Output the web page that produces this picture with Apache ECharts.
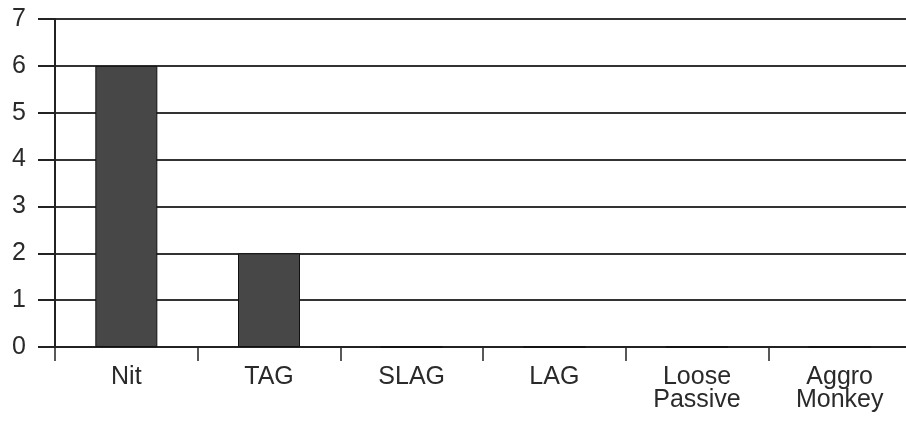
<!DOCTYPE html>
<html>
<head>
    <meta charset="utf-8">
    <title>Player types</title>
    <script src="https://cdn.jsdelivr.net/npm/echarts@6/dist/echarts.min.js"></script>
    <style>
        *{
            margin: 0;
            padding: 0;
        }
        html,body{
            width: 100%;
            height: 100%;
            overflow: hidden;
            background: #fff;
        }
        .container{
            width: 906px;
            height: 428px;
        }
    </style>
</head>
<body>
<div class="container"></div>

<script>
    let categories = ['Nit', 'TAG', 'SLAG', 'LAG', 'Loose\nPassive', 'Aggro\nMonkey'];
    let values = [6, 2, 0, 0, 0, 0];
    let yTicks = [0, 1, 2, 3, 4, 5, 6, 7];

    let container = document.getElementsByClassName('container');
    let chart = echarts.init(container[0]);
    let option = {
        animation: false,
        grid: {
            left: 55,
            top: 19,
            width: 856,
            height: 328,
            outerBoundsMode: 'none'
        },
        xAxis: {
            type: 'category',
            data: categories,
            axisLine: { lineStyle: { color: '#222', width: 2 } },
            axisTick: { show: true, length: 14, lineStyle: { color: '#222', width: 1.5 } },
            axisLabel: {
                interval: 0,
                margin: 19,
                fontFamily: 'Liberation Sans',
                fontSize: 25,
                lineHeight: 23,
                color: '#2a2a2a'
            }
        },
        yAxis: {
            type: 'value',
            min: yTicks[0],
            max: yTicks[yTicks.length - 1],
            interval: 1,
            axisLine: { show: true, lineStyle: { color: '#222', width: 2 } },
            axisTick: { show: true, length: 17, lineStyle: { color: '#222', width: 2 } },
            splitLine: { lineStyle: { color: '#333', width: 2 } },
            axisLabel: {
                margin: 29,
                fontFamily: 'Liberation Sans',
                fontSize: 25,
                color: '#2a2a2a'
            }
        },
        series: [{
            type: 'bar',
            data: values,
            barWidth: 62,
            itemStyle: {
                color: '#474747',
                borderColor: '#111',
                borderWidth: 1
            }
        }]
    };
    chart.setOption(option);
</script>
</body>
</html>
